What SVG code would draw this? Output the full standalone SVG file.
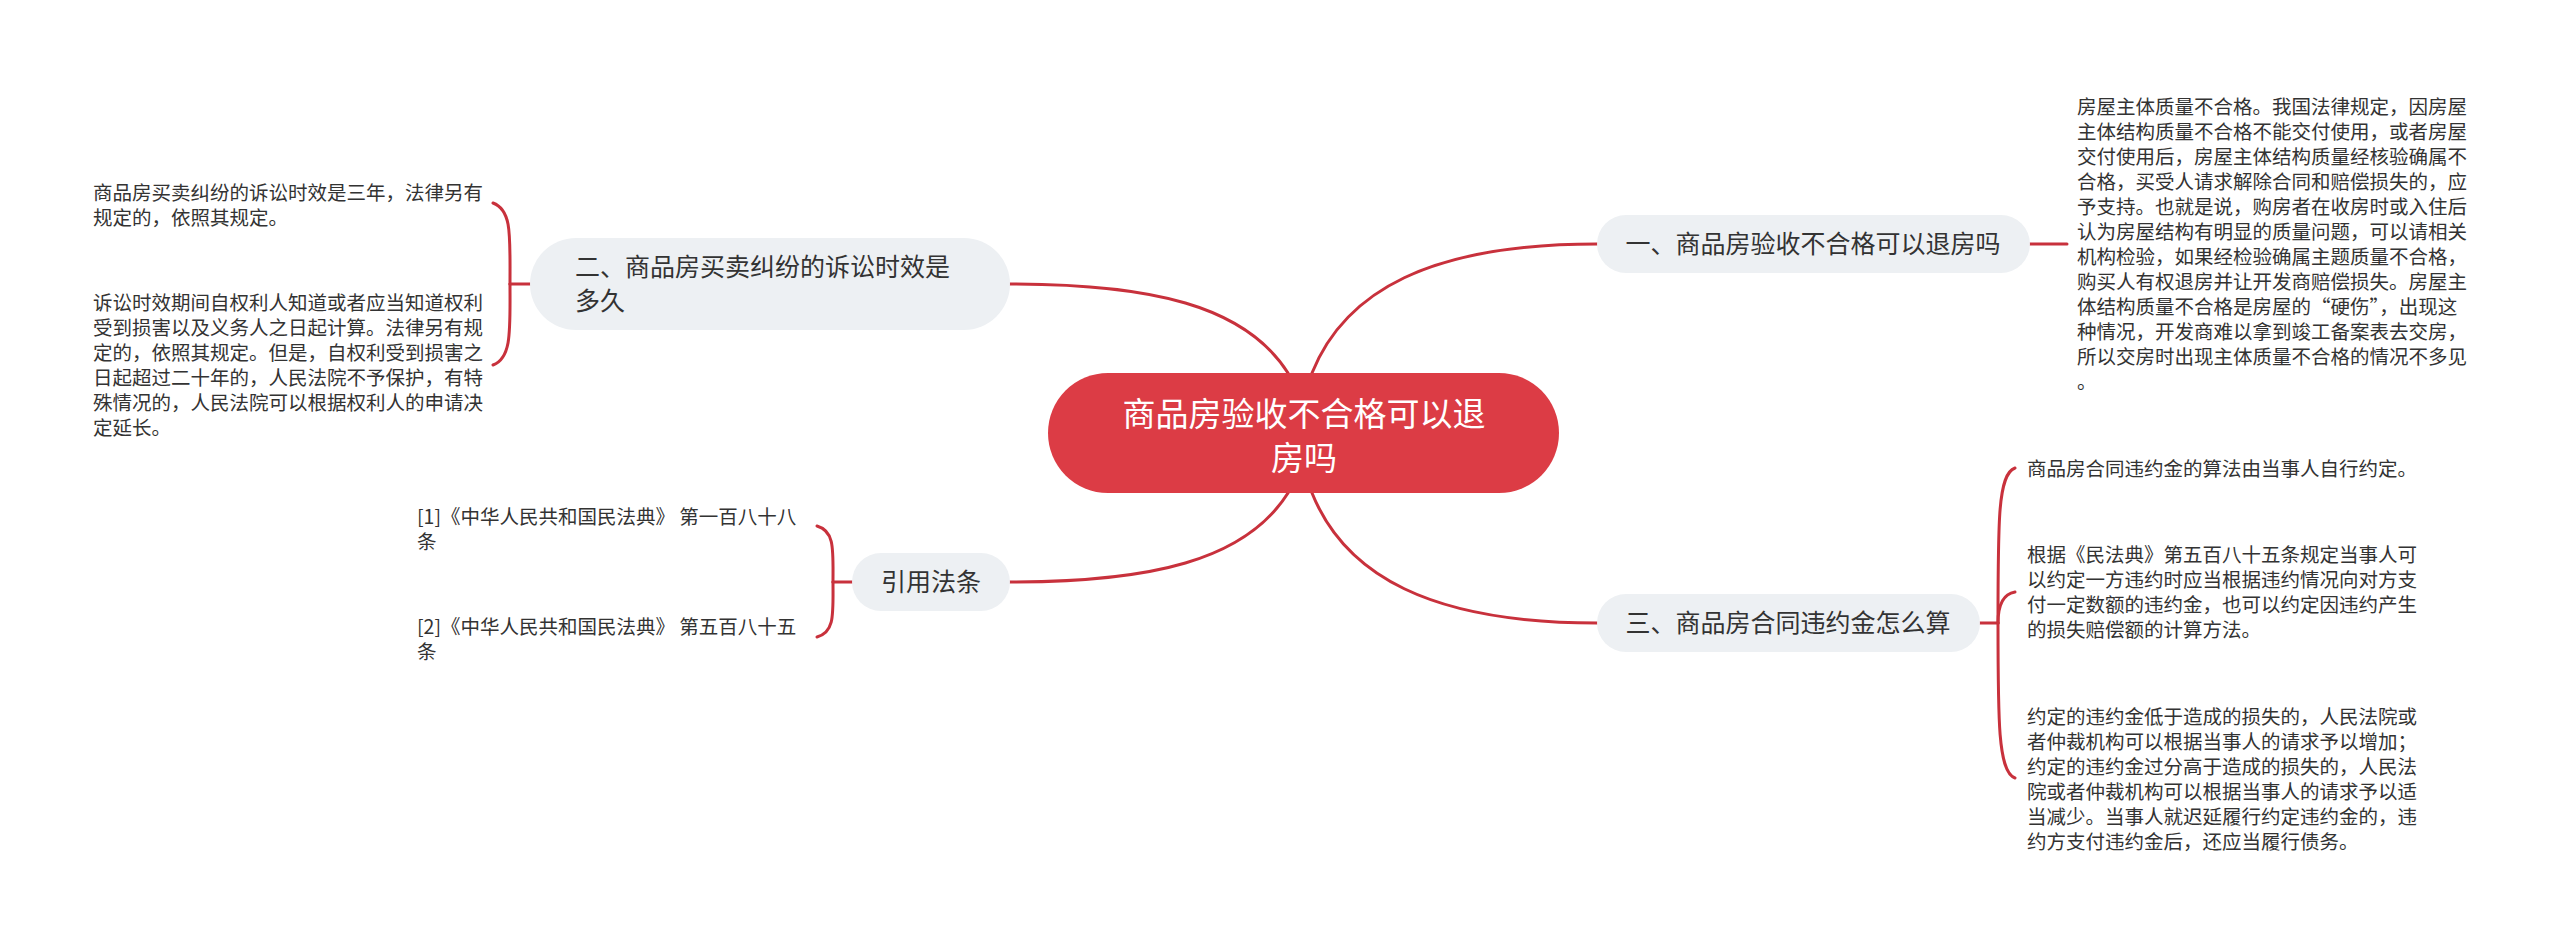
<svg xmlns="http://www.w3.org/2000/svg" width="2560" height="947" viewBox="0 0 2560 947">
<style>
.c{fill:none;stroke:#c8313c;stroke-width:3;stroke-linecap:round}
.sub{fill:#edf0f3}
.t{font-family:"Noto Sans CJK SC","Noto Sans",sans-serif;fill:#333}
.st{font-size:25px}
.lf{font-size:19.5px}
.ct{font-family:"Noto Sans CJK SC","Noto Sans",sans-serif;font-size:33px;fill:#ffffff;text-anchor:middle}
</style>
<rect width="2560" height="947" fill="#ffffff"/>
<g id="connectors">
<path class="c" d="M1312 373 C1345 291 1430 244 1597 244"/>
<path class="c" d="M1288 373 C1245 305 1150 284 1010 284"/>
<path class="c" d="M1288 493 C1245 561 1150 582 1010 582"/>
<path class="c" d="M1312 493 C1345 575 1430 623 1597 623"/>
<path class="c" d="M2030 244 L2067 244"/>
<path class="c" d="M530 284 L510 284"/>
<path class="c" d="M510 284 C510 235 512 210 493 203"/>
<path class="c" d="M510 284 C510 330 512 358 493 365"/>
<path class="c" d="M852 582 L833 582"/>
<path class="c" d="M833 582 C833 550 835 531 817 526"/>
<path class="c" d="M833 582 C833 614 835 632 817 637"/>
<path class="c" d="M1980 623 L1998 623"/>
<path class="c" d="M1998 623 C1998 520 1998 474 2015 468"/>
<path class="c" d="M1998 623 C1998 605 2003 594 2015 592"/>
<path class="c" d="M1998 623 C1998 720 1998 772 2015 778"/>
</g>
<g id="center">
<rect x="1048" y="373" width="511" height="120" rx="60" fill="#dc3c45"/>
<text class="ct" x="1304" y="426">商品房验收不合格可以退</text>
<text class="ct" x="1304" y="470">房吗</text>
</g>
<g id="n1">
<rect class="sub" x="1597" y="215" width="433" height="58" rx="29"/>
<text class="t st" x="1813" y="253" text-anchor="middle">一、商品房验收不合格可以退房吗</text>
</g>
<g id="n2">
<rect class="sub" x="530" y="238" width="480" height="92" rx="46"/>
<text class="t st" x="575" y="276">二、商品房买卖纠纷的诉讼时效是</text>
<text class="t st" x="575" y="310">多久</text>
</g>
<g id="n3">
<rect class="sub" x="1597" y="594" width="383" height="58" rx="29"/>
<text class="t st" x="1788" y="632" text-anchor="middle">三、商品房合同违约金怎么算</text>
</g>
<g id="n4">
<rect class="sub" x="852" y="553" width="158" height="58" rx="29"/>
<text class="t st" x="931" y="591" text-anchor="middle">引用法条</text>
</g>
<g id="leaf1">
<text class="t lf" x="2077" y="114">房屋主体质量不合格。我国法律规定，因房屋</text>
<text class="t lf" x="2077" y="139">主体结构质量不合格不能交付使用，或者房屋</text>
<text class="t lf" x="2077" y="164">交付使用后，房屋主体结构质量经核验确属不</text>
<text class="t lf" x="2077" y="189">合格，买受人请求解除合同和赔偿损失的，应</text>
<text class="t lf" x="2077" y="214">予支持。也就是说，购房者在收房时或入住后</text>
<text class="t lf" x="2077" y="239">认为房屋结构有明显的质量问题，可以请相关</text>
<text class="t lf" x="2077" y="264">机构检验，如果经检验确属主题质量不合格，</text>
<text class="t lf" x="2077" y="289">购买人有权退房并让开发商赔偿损失。房屋主</text>
<text class="t lf" x="2077" y="314">体结构质量不合格是房屋的“硬伤”，出现这</text>
<text class="t lf" x="2077" y="339">种情况，开发商难以拿到竣工备案表去交房，</text>
<text class="t lf" x="2077" y="364">所以交房时出现主体质量不合格的情况不多见</text>
<text class="t lf" x="2077" y="389">。</text>
</g>
<g id="leaf2a">
<text class="t lf" x="93" y="200">商品房买卖纠纷的诉讼时效是三年，法律另有</text>
<text class="t lf" x="93" y="225">规定的，依照其规定。</text>
</g>
<g id="leaf2b">
<text class="t lf" x="93" y="310">诉讼时效期间自权利人知道或者应当知道权利</text>
<text class="t lf" x="93" y="335">受到损害以及义务人之日起计算。法律另有规</text>
<text class="t lf" x="93" y="360">定的，依照其规定。但是，自权利受到损害之</text>
<text class="t lf" x="93" y="385">日起超过二十年的，人民法院不予保护，有特</text>
<text class="t lf" x="93" y="410">殊情况的，人民法院可以根据权利人的申请决</text>
<text class="t lf" x="93" y="435">定延长。</text>
</g>
<g id="leaf3a">
<text class="t lf" x="2027" y="476">商品房合同违约金的算法由当事人自行约定。</text>
</g>
<g id="leaf3b">
<text class="t lf" x="2027" y="562">根据《民法典》第五百八十五条规定当事人可</text>
<text class="t lf" x="2027" y="587">以约定一方违约时应当根据违约情况向对方支</text>
<text class="t lf" x="2027" y="612">付一定数额的违约金，也可以约定因违约产生</text>
<text class="t lf" x="2027" y="637">的损失赔偿额的计算方法。</text>
</g>
<g id="leaf3c">
<text class="t lf" x="2027" y="724">约定的违约金低于造成的损失的，人民法院或</text>
<text class="t lf" x="2027" y="749">者仲裁机构可以根据当事人的请求予以增加；</text>
<text class="t lf" x="2027" y="774">约定的违约金过分高于造成的损失的，人民法</text>
<text class="t lf" x="2027" y="799">院或者仲裁机构可以根据当事人的请求予以适</text>
<text class="t lf" x="2027" y="824">当减少。当事人就迟延履行约定违约金的，违</text>
<text class="t lf" x="2027" y="849">约方支付违约金后，还应当履行债务。</text>
</g>
<g id="leaf4a">
<text class="t lf" x="417" y="524">[1]《中华人民共和国民法典》 第一百八十八</text>
<text class="t lf" x="417" y="549">条</text>
</g>
<g id="leaf4b">
<text class="t lf" x="417" y="634">[2]《中华人民共和国民法典》 第五百八十五</text>
<text class="t lf" x="417" y="659">条</text>
</g>
</svg>
